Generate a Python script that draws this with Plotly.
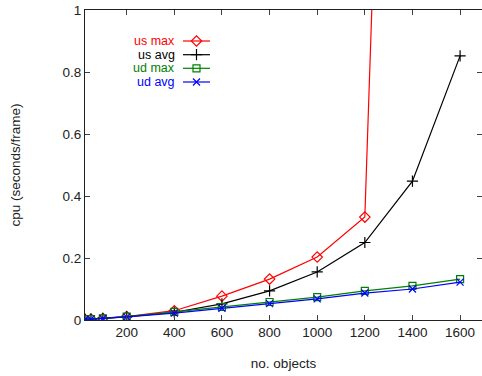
import plotly.graph_objects as go

objects = [25, 50, 100, 200, 400, 600, 800, 1000, 1200, 1400, 1600]
us_max = [0.002, 0.003, 0.005, 0.011, 0.030, 0.077, 0.132, 0.203, 0.332, 4.9, None]
us_avg = [0.002, 0.003, 0.005, 0.010, 0.025, 0.052, 0.094, 0.155, 0.250, 0.448, 0.852]
ud_max = [0.002, 0.003, 0.005, 0.011, 0.026, 0.042, 0.058, 0.074, 0.094, 0.110, 0.132]
ud_avg = [0.002, 0.003, 0.005, 0.010, 0.022, 0.038, 0.053, 0.068, 0.087, 0.100, 0.122]

names = ["us max", "us avg", "ud max", "ud avg"]
colors = ["#ff0000", "#000000", "#008000", "#0000ff"]
symbols = ["diamond-open", "cross-thin-open", "square-open", "x-thin-open"]
sizes = [8, 8, 7, 7]
series = [us_max, us_avg, ud_max, ud_avg]

FONT = "Liberation Sans, Arial, sans-serif"
fig = go.Figure()
for name, col, sym, sz, ys in zip(names, colors, symbols, sizes, series):
    fig.add_trace(go.Scatter(
        x=objects, y=ys, mode="lines+markers", name=name,
        line=dict(color=col, width=1.2),
        marker=dict(symbol=sym, size=sz, color=col, line=dict(color=col, width=1.2)),
        cliponaxis=True, showlegend=False,
    ))

# manual legend (gnuplot style: text left of sample) on pixel overlay axes
leg_y = [41, 54.7, 68.3, 82]
for name, col, sym, sz, yy in zip(names, colors, symbols, sizes, leg_y):
    fig.add_trace(go.Scatter(
        x=[183, 210], y=[yy, yy], xaxis="x2", yaxis="y2", mode="lines",
        line=dict(color=col, width=1.2), showlegend=False, hoverinfo="skip"))
    fig.add_trace(go.Scatter(
        x=[196.5], y=[yy], xaxis="x2", yaxis="y2", mode="markers",
        marker=dict(symbol=sym, size=sz, color=col, line=dict(color=col, width=1.2)),
        showlegend=False, hoverinfo="skip"))
    fig.add_annotation(x=176, y=yy, xref="x2", yref="y2", text=name, showarrow=False,
                       xanchor="right", yanchor="middle", borderpad=0,
                       font=dict(family=FONT, size=12.5, color=col))

axis_common = dict(
    showline=True, linecolor="#202020", linewidth=1, mirror="allticks",
    ticks="inside", ticklen=5, tickcolor="#404040", tickwidth=1,
    showgrid=False, zeroline=False,
    tickfont=dict(family=FONT, size=13.5, color="#222222"),
)
fig.update_layout(
    width=482, height=376,
    margin=dict(l=85, r=0, t=10, b=56),
    paper_bgcolor="white", plot_bgcolor="white",
    font=dict(family=FONT, size=13.5, color="#222222"),
    xaxis=dict(range=[25, 1692], tickvals=[200, 400, 600, 800, 1000, 1200, 1400, 1600],
               title=dict(text="no. objects", standoff=19, font=dict(family=FONT, size=13.5)),
               **axis_common),
    yaxis=dict(range=[0, 1], tickvals=[0, 0.2, 0.4, 0.6, 0.8, 1],
               ticktext=["0", "0.2", "0.4", "0.6", "0.8", "1"],
               title=dict(text="cpu (seconds/frame)", standoff=38, font=dict(family=FONT, size=13.5)),
               **axis_common),
    xaxis2=dict(range=[85, 482], overlaying="x", visible=False, fixedrange=True),
    yaxis2=dict(range=[320, 10], overlaying="y", visible=False, fixedrange=True),
)
fig.write_html("out.html")
